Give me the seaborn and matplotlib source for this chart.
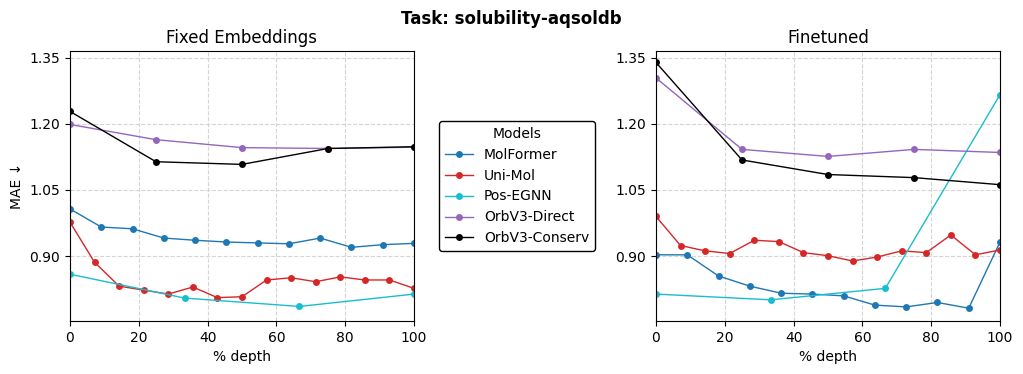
import numpy as np
import pandas as pd
import matplotlib
matplotlib.use("Agg")
import matplotlib.pyplot as plt
import seaborn as sns

models = ["MolFormer", "Uni-Mol", "Pos-EGNN", "OrbV3-Direct", "OrbV3-Conserv"]
colors = ["#1f77b4", "#d62728", "#17becf", "#9467bd", "black"]

x12 = [i * 100 / 11 for i in range(12)]
x15 = [i * 100 / 14 for i in range(15)]
x4 = [0, 100 / 3, 200 / 3, 100]
x5 = [0, 25, 50, 75, 100]

fixed_molformer = [1.007, 0.966, 0.962, 0.941, 0.936, 0.932, 0.930, 0.928, 0.941, 0.920, 0.926, 0.929]
fixed_unimol = [0.977, 0.886, 0.832, 0.823, 0.814, 0.830, 0.806, 0.808, 0.846, 0.851, 0.842, 0.853, 0.846, 0.846, 0.827]
fixed_posegnn = [0.859, 0.805, 0.786, 0.814]
fixed_orbdirect = [1.1985, 1.164, 1.146, 1.144, 1.147]
fixed_orbconserv = [1.228, 1.114, 1.108, 1.144, 1.148]

ft_molformer = [0.903, 0.903, 0.855, 0.832, 0.816, 0.814, 0.810, 0.789, 0.785, 0.795, 0.782, 0.932]
ft_unimol = [0.990, 0.924, 0.912, 0.906, 0.936, 0.933, 0.908, 0.901, 0.889, 0.898, 0.912, 0.908, 0.948, 0.903, 0.914]
ft_posegnn = [0.814, 0.801, 0.827, 1.266]
ft_orbdirect = [1.304, 1.142, 1.126, 1.142, 1.135]
ft_orbconserv = [1.339, 1.118, 1.085, 1.078, 1.062]


def build(series):
    rows = []
    for m, xs, ys in series:
        for xv, yv in zip(xs, ys):
            rows.append({"Models": m, "depth": xv, "MAE": yv})
    return pd.DataFrame(rows)


df_fixed = build([
    ("MolFormer", x12, fixed_molformer),
    ("Uni-Mol", x15, fixed_unimol),
    ("Pos-EGNN", x4, fixed_posegnn),
    ("OrbV3-Direct", x5, fixed_orbdirect),
    ("OrbV3-Conserv", x5, fixed_orbconserv),
])
df_ft = build([
    ("MolFormer", x12, ft_molformer),
    ("Uni-Mol", x15, ft_unimol),
    ("Pos-EGNN", x4, ft_posegnn),
    ("OrbV3-Direct", x5, ft_orbdirect),
    ("OrbV3-Conserv", x5, ft_orbconserv),
])

palette = dict(zip(models, colors))

fig = plt.figure(figsize=(10.23, 3.74), dpi=100)
ax1 = fig.add_axes([70 / 1023, 53 / 374, 344 / 1023, 270 / 374])
ax2 = fig.add_axes([656 / 1023, 53 / 374, 344 / 1023, 270 / 374])

for ax, df, title in [(ax1, df_fixed, "Fixed Embeddings"), (ax2, df_ft, "Finetuned")]:
    sns.lineplot(data=df, x="depth", y="MAE", hue="Models", hue_order=models,
                 palette=palette, marker="o", markersize=5, markeredgewidth=0,
                 linewidth=1, ax=ax, legend=(ax is ax1), errorbar=None, sort=False)
    ax.set_xlim(0, 100)
    ax.set_ylim(0.753, 1.365)
    ax.set_xticks([0, 20, 40, 60, 80, 100])
    ax.set_yticks([0.90, 1.05, 1.20, 1.35])
    ax.set_yticklabels(["0.90", "1.05", "1.20", "1.35"])
    ax.grid(True, linestyle="--", color="#d5d5d5", linewidth=0.8)
    ax.set_title(title, fontsize=12)
    ax.set_xlabel("% depth", fontsize=10)
    ax.tick_params(labelsize=10)

ax1.set_ylabel("MAE ↓", fontsize=10)
ax2.set_ylabel("")

handles, labels = ax1.get_legend_handles_labels()
ax1.get_legend().remove()
leg = fig.legend(handles, labels, title="Models", loc="center",
                 bbox_to_anchor=(517 / 1023, 1 - 186 / 374), fontsize=10,
                 title_fontsize=10, frameon=True, edgecolor="black", framealpha=1)

fig.suptitle("Task: solubility-aqsoldb", fontweight="bold", fontsize=12, y=0.973)
fig.savefig("out.png", dpi=100)
